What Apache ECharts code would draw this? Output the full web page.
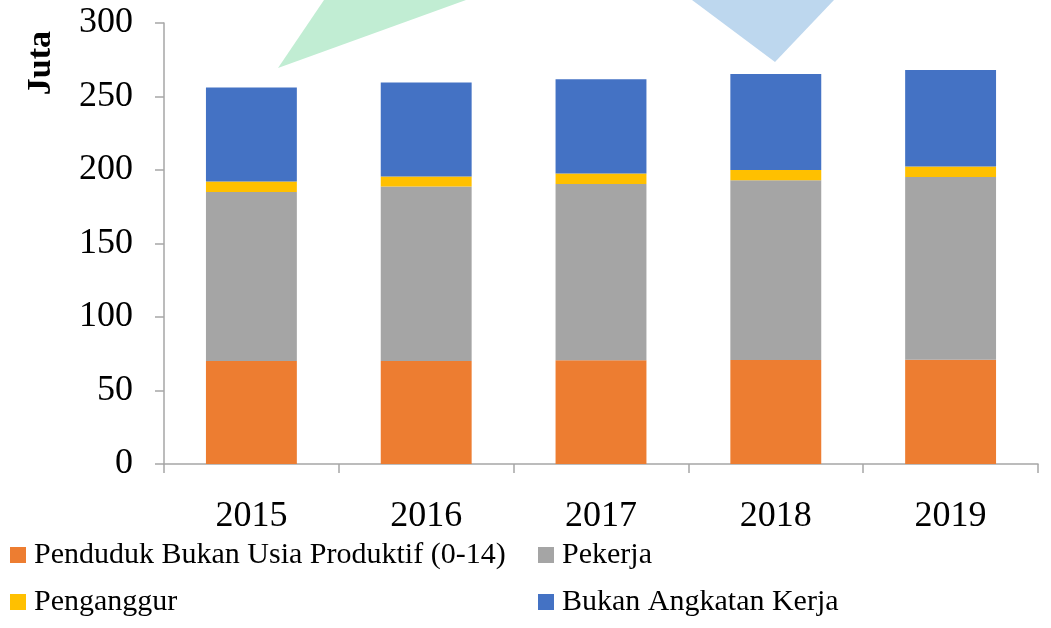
<!DOCTYPE html>
<html>
<head>
    <meta charset="utf-8">
    <title>Juta</title>
    <script src="https://cdn.jsdelivr.net/npm/echarts@6/dist/echarts.min.js"></script>
    <style>
        html, body { margin: 0; padding: 0; background: #fff; }
    </style>
</head>
<body>
<div id="main" style="width: 1051px;height:628px;"></div>
<script type="text/javascript">
// data (juta)
var tahun = ['2015', '2016', '2017', '2018', '2019'];
var bukanUsiaProduktif = [70, 70, 70.5, 70.7, 71];
var pekerja = [115, 118.8, 120, 122.3, 124.3];
var penganggur = [7.2, 6.8, 7.2, 7, 7.1];
var bukanAngkatanKerja = [64, 63.9, 64, 65.3, 65.7];
var yTicks = [0, 50, 100, 150, 200, 250, 300];

var font = 'Liberation Serif';
var axisGray = '#a6a6a6';

function legendAt(name, left, top) {
    return {
        data: [name],
        left: left,
        top: top,
        padding: 0,
        itemWidth: 16,
        itemHeight: 16,
        itemGap: 0,
        icon: 'rect',
        selectedMode: false,
        textStyle: { fontFamily: font, fontSize: 30, color: '#000', padding: [0, 0, 0, 3] }
    };
}

function barSeries(name, values, color) {
    return {
        name: name,
        type: 'bar',
        stack: 'total',
        barWidth: '52%',
        itemStyle: { color: color },
        data: values
    };
}

var myChart = echarts.init(document.getElementById('main'));

var option = {
    animation: false,
    graphic: [
        {
            type: 'polygon',
            shape: { points: [[278, 68], [324, 0], [466, 0]] },
            style: { fill: '#c1edd3' },
            z: -1
        },
        {
            type: 'polygon',
            shape: { points: [[692, 0], [834, 0], [775, 62]] },
            style: { fill: '#bdd7ee' },
            z: -1
        },
        {
            type: 'text',
            left: 24,
            top: 31,
            rotation: Math.PI / 2,
            style: { text: 'Juta', font: 'bold 34px "Liberation Serif"', fill: '#000' }
        }
    ],
    legend: [
        legendAt('Penduduk Bukan Usia Produktif (0-14)', 10, 540),
        legendAt('Pekerja', 538, 540),
        legendAt('Penganggur', 10, 587),
        legendAt('Bukan Angkatan Kerja', 538, 587)
    ],
    grid: { left: 164, right: 13, top: 23, bottom: 164, containLabel: false },
    xAxis: {
        type: 'category',
        data: tahun,
        axisLine: { lineStyle: { color: axisGray, width: 1.5 } },
        axisTick: { show: true, length: 9, lineStyle: { color: axisGray, width: 1.5 } },
        axisLabel: { fontFamily: font, fontSize: 36, color: '#000', margin: 35 }
    },
    yAxis: {
        type: 'value',
        min: yTicks[0],
        max: yTicks[yTicks.length - 1],
        interval: 50,
        splitLine: { show: false },
        axisLine: { show: true, lineStyle: { color: axisGray, width: 1.5 } },
        axisTick: { show: true, length: 9, lineStyle: { color: axisGray, width: 1.5 } },
        axisLabel: { fontFamily: font, fontSize: 36, color: '#000', margin: 31 }
    },
    series: [
        barSeries('Penduduk Bukan Usia Produktif (0-14)', bukanUsiaProduktif, '#ed7d31'),
        barSeries('Pekerja', pekerja, '#a5a5a5'),
        barSeries('Penganggur', penganggur, '#ffc000'),
        barSeries('Bukan Angkatan Kerja', bukanAngkatanKerja, '#4472c4')
    ]
};

myChart.setOption(option);
</script>
</body>
</html>
